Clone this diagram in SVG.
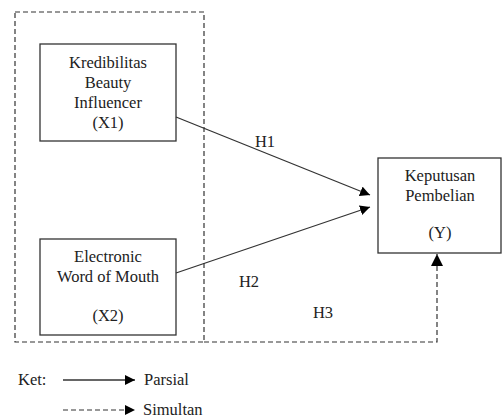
<svg xmlns="http://www.w3.org/2000/svg" width="504" height="418" viewBox="0 0 504 418">
<defs>
<marker id="ah" viewBox="0 0 10 10" refX="10" refY="5" markerWidth="10" markerHeight="10" markerUnits="userSpaceOnUse" orient="auto">
<path d="M0,0 L10,5 L0,10 Z" fill="#000"/>
</marker>
<marker id="ahb" viewBox="0 0 10 10" refX="10" refY="5" markerWidth="12" markerHeight="14" markerUnits="userSpaceOnUse" orient="auto">
<path d="M0,0 L10,5 L0,10 Z" fill="#000"/>
</marker>
</defs>
<style>
.box{fill:#fff;stroke:#333;stroke-width:1.3}
text{font-family:'Liberation Serif','DejaVu Serif',serif;font-size:16.5px;fill:#222}
.t{text-anchor:middle}
.solid{fill:none;stroke:#333;stroke-width:1.3}
.dash{fill:none;stroke:#333;stroke-width:1.2;stroke-dasharray:5,3}
</style>
<rect width="504" height="418" fill="#fff"/>
<g id="group-box">
<rect x="15" y="12" width="189" height="330" class="dash"/>
</g>
<g id="x1">
<rect x="40" y="44" width="136" height="97" class="box"/>
<text class="t" x="108" y="68">Kredibilitas</text>
<text class="t" x="108" y="88">Beauty</text>
<text class="t" x="108" y="108">Influencer</text>
<text class="t" x="108" y="128">(X1)</text>
</g>
<g id="x2">
<rect x="40" y="239" width="136" height="96" class="box"/>
<text class="t" x="108" y="262">Electronic</text>
<text class="t" x="108" y="282">Word of Mouth</text>
<text class="t" x="108" y="321">(X2)</text>
</g>
<g id="y">
<rect x="378" y="158" width="123" height="95" class="box"/>
<text class="t" x="440" y="181">Keputusan</text>
<text class="t" x="440" y="201">Pembelian</text>
<text class="t" x="440" y="238">(Y)</text>
</g>
<g id="connectors">
<line x1="176" y1="117" x2="370" y2="195" class="solid" marker-end="url(#ah)"/>
<line x1="176" y1="273" x2="370" y2="207" class="solid" marker-end="url(#ah)"/>
<polyline points="204,342 437,342 437,254" class="dash" marker-end="url(#ahb)"/>
<text class="t" x="265" y="147">H1</text>
<text class="t" x="249" y="287">H2</text>
<text class="t" x="323" y="318">H3</text>
</g>
<g id="legend">
<text x="18" y="385">Ket:</text>
<line x1="63" y1="380" x2="135" y2="380" class="solid" marker-end="url(#ah)"/>
<text x="144" y="385">Parsial</text>
<line x1="63" y1="410" x2="135" y2="410" class="dash" marker-end="url(#ah)"/>
<text x="143" y="415">Simultan</text>
</g>
</svg>
